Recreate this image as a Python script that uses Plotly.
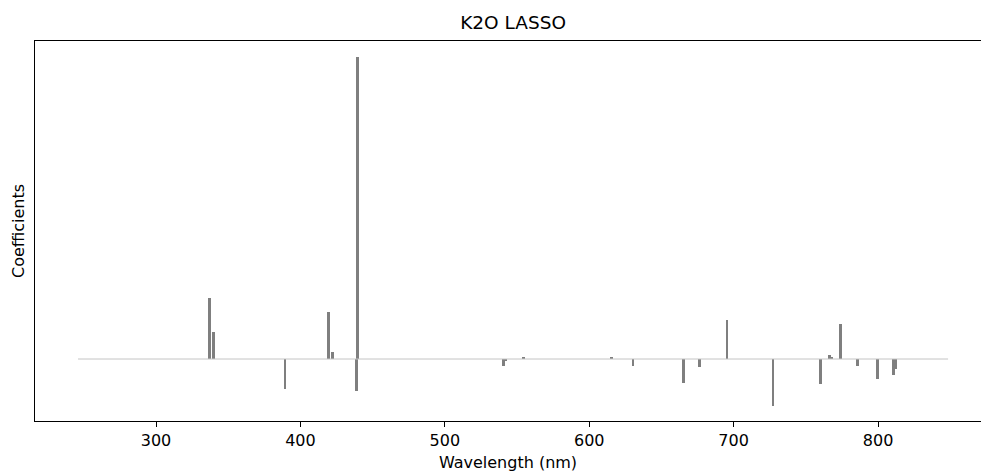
import plotly.graph_objects as go

# Wavelength range of the spectrum (baseline at zero)
wl_range = [246.0, 848.5]

# Non-zero LASSO coefficients (arbitrary units)
wavelengths = [337.2, 340.0, 389.3, 419.3, 422.1, 438.7, 439.7,
               540.8, 541.9, 554.5, 615.3, 630.3,
               665.4, 676.2, 695.4, 727.3, 760.0, 766.3, 767.6,
               774.0, 785.8, 799.6, 810.8, 812.2]
coefs = [0.61, 0.27, -0.30, 0.47, 0.07, -0.32, 3.02,
         -0.07, -0.02, 0.015, 0.02, -0.065,
         -0.24, -0.08, 0.39, -0.47, -0.25, 0.04, 0.02,
         0.35, -0.07, -0.20, -0.16, -0.10]

x_ticks = [300, 400, 500, 600, 700, 800]

fig = go.Figure()
fig.add_trace(go.Scatter(
    x=wl_range, y=[0, 0], mode="lines",
    line=dict(color="#c4c4c4", width=1), hoverinfo="skip", showlegend=False))
fig.add_trace(go.Bar(
    x=wavelengths, y=coefs, width=1.9,
    marker=dict(color="#7f7f7f", line=dict(width=0)), showlegend=False))

fig.update_layout(
    width=981, height=472, autosize=False,
    margin=dict(l=35, r=0, t=41, b=51),
    paper_bgcolor="white", plot_bgcolor="white",
    font=dict(family="DejaVu Sans", size=15, color="black"),
    title=dict(text="K2O LASSO", xref="container", x=0.523, xanchor="center",
               yref="container", y=0.953, yanchor="middle",
               font=dict(size=18.5)),
    bargap=0,
    xaxis=dict(range=[216.2, 871.3], tickvals=x_ticks, ticks="outside", ticklen=5,
               tickcolor="black", showgrid=False, zeroline=False,
               tickfont=dict(size=16),
               showline=True, linecolor="black", linewidth=1, mirror=True,
               title=dict(text="Wavelength (nm)", standoff=7, font=dict(size=16))),
    yaxis=dict(range=[-0.62, 3.18], showticklabels=False, ticks="", showgrid=False,
               zeroline=False, showline=True, linecolor="black", linewidth=1, mirror=False,
               title=dict(text="Coefficients", standoff=5, font=dict(size=16))),
)

fig.write_html("out.html")
